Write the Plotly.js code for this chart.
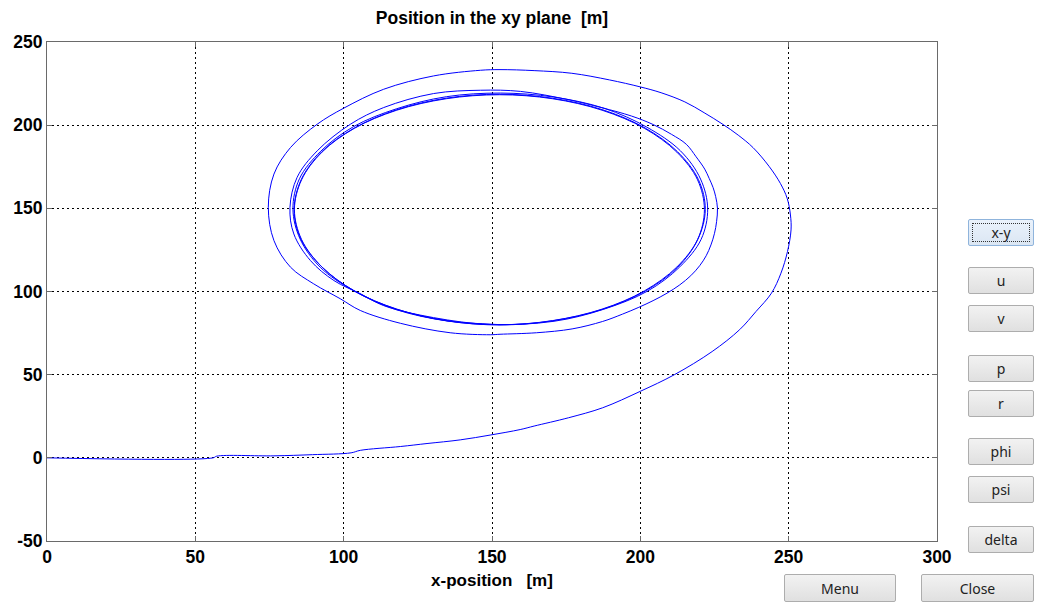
<!DOCTYPE html>
<html>
<head>
<meta charset="utf-8">
<script src="https://cdn.plot.ly/plotly-3.0.1.min.js"></script>
<style>
  html, body { margin:0; padding:0; background:#fff; }
  #wrap { position:relative; width:1037px; height:603px; overflow:hidden; }
  #chart { position:absolute; left:0; top:0; width:1037px; height:603px; }
  .btn { position:absolute; box-sizing:border-box; width:66px; height:27px;
         border:1px solid #adadad; border-radius:2px;
         background:linear-gradient(#f2f2f2,#e0e0e0);
         font-family:"Noto Sans","Liberation Sans",sans-serif; font-size:14px; color:#222;
         display:flex; align-items:center; justify-content:center; }
  .focus { background:linear-gradient(#eaf2fb,#dbe6f3); border-color:#8fb4dc; }
  .focus::after { content:""; position:absolute; left:3px; top:3px; right:3px; bottom:3px;
                  border:1px dotted #333; }
</style>
</head>
<body>
<div id="wrap">
  <div id="chart"></div>
</div>
<script>
// ---- data (x, y in metres) ----
const approachX = [0, 56, 57.2, 76.5, 89.5, 102.5, 105.6, 119.1, 128.1, 139.3, 149.4, 159.5, 164.2, 175.8, 187.3, 200, 211.5, 224.2, 233.5, 239, 244.2];
const approachY = [0, 0, 1, 1.2, 1.9, 3, 4.5, 6.8, 8.6, 10.8, 13.7, 17, 19.1, 24.1, 30.1, 40, 50, 63.9, 77.1, 88, 99];

const lap1X = [247.4, 249.6, 250.8, 250.6, 249.5, 247.2, 243.5, 238, 233, 227.9, 221.5, 215, 207, 200, 189.6, 176.9, 164.2, 152.7, 146.1, 130.3, 113.5, 100, 91.1, 82.1, 76.5, 74.6, 76.5, 82.1, 89.9, 98.9, 105.6, 119.1, 135.9, 149.4];
const lap1Y = [111, 124, 137, 146, 156, 165, 175, 186.5, 194, 200.4, 207.5, 214, 219.5, 223, 227.2, 231.2, 232.8, 233.4, 233, 229.6, 221.6, 210.2, 200.6, 186.6, 170.6, 150.6, 130.6, 114.6, 104.6, 95.6, 88.6, 80.9, 75.2, 74];

const lap2X = [152.7, 165, 177, 187.3, 194, 199.5, 204.3, 209, 213.3, 217, 220, 222.2, 223.8, 225, 225.7, 226, 225.4, 224.5, 223.2, 221.7, 218.8, 215.5, 210.5, 204.3, 197, 187, 175.8, 159.6, 146.1, 130.3, 113.5, 102.3, 91.1, 84.3, 81.9, 83.2, 88.8, 96.7, 105.7, 113.5, 130.3, 149.4];
const lap2Y = [74.3, 75.2, 77.5, 82, 86.4, 90.5, 94.5, 99, 104, 109.5, 115.5, 121.5, 128, 135, 142, 150, 157, 162.6, 168, 173.6, 181, 188.5, 194.5, 200.4, 205.5, 210.5, 215.3, 220.3, 221, 219, 210.6, 200.6, 184.6, 168.6, 150.6, 134.6, 118.6, 106.6, 98.6, 91.5, 84.3, 80.2];

const lap3X = [170.9, 187.6, 202.4, 213.3, 220.5, 222.7, 220.3, 213.5, 202.2, 187.9, 170.8, 152.9, 134.6, 117.9, 103.2, 92.3, 85.1, 82.9, 85.3, 92.1, 103.4, 117.7, 134.8, 152.7];
const lap3Y = [82.1, 89.3, 100.2, 114.8, 131.4, 149.7, 167.6, 184.6, 198.8, 210.1, 216.9, 219.3, 217.1, 209.9, 199, 184.4, 167.8, 149.5, 131.6, 114.6, 100.4, 89.1, 82.3, 79.9];

const lap4X = [170.5, 187.3, 201.7, 212.6, 219.4, 221.9, 219.6, 212.5, 201.6, 187.4, 170.4, 152.6, 134.8, 117.9, 103.5, 92.6, 85.7, 83.3, 85.6, 92.7, 103.6, 117.8, 134.7, 152.6];
const lap4Y = [82.4, 89.3, 100.3, 114.6, 131.4, 149.3, 167.2, 184.1, 198.3, 209.2, 216.2, 218.6, 216.3, 209.3, 198.2, 184, 167.3, 149.3, 131.4, 114.7, 100.3, 89.4, 82.4, 80];

const lap5X = [170.4, 187.1, 201.4, 212.3, 219.3, 221.6, 219.3, 212.3, 201.4, 187.1, 170.4, 152.5, 134.6, 117.9, 103.6, 92.7, 85.8, 83.4, 85.8, 92.7, 103.6, 117.9, 134.6, 152.5];
const lap5Y = [82.5, 89.4, 100.4, 114.7, 131.3, 149.2, 167.1, 183.8, 198.1, 209, 215.9, 218.3, 215.9, 209, 198.1, 183.8, 167.1, 149.2, 131.3, 114.7, 100.4, 89.4, 82.5, 80.1];

const xTicks = [0, 50, 100, 150, 200, 250, 300];
const yTicks = [-50, 0, 50, 100, 150, 200, 250];

const buttonLabels = ['x-y', 'u', 'v', 'p', 'r', 'phi', 'psi', 'delta'];
const bottomLabels = ['Menu', 'Close'];

// ---- assemble path ----
const pathX = [].concat(approachX, lap1X, lap2X, lap3X, lap4X, lap5X);
const pathY = [].concat(approachY, lap1Y, lap2Y, lap3Y, lap4Y, lap5Y);

const fontFam = '"Liberation Sans", Arial, sans-serif';
const axisCommon = {
  showgrid: true, gridcolor: '#000', griddash: '2px,3px', gridwidth: 1,
  showline: true, linecolor: '#6a6a6a', linewidth: 1, mirror: 'ticks',
  ticks: 'inside', ticklen: 5, tickcolor: '#6a6a6a', tickwidth: 1,
  zeroline: false, fixedrange: true,
  tickfont: { family: fontFam, size: 17.5, color: '#000', weight: 'bold' }
};

const trace = {
  type: 'scatter', mode: 'lines', x: pathX, y: pathY,
  line: { color: '#0000ff', width: 1, shape: 'spline', smoothing: 1 },
  hoverinfo: 'skip'
};

const layout = {
  width: 1037, height: 603,
  margin: { l: 47, r: 100, t: 42, b: 62, pad: 0 },
  paper_bgcolor: '#fff', plot_bgcolor: '#fff',
  showlegend: false,
  title: { text: 'Position in the xy plane\u00a0\u00a0[m]', xref: 'paper', x: 0.5, xanchor: 'center',
           yref: 'container', y: 0.970, yanchor: 'middle',
           font: { family: fontFam, size: 17.5, color: '#000', weight: 'bold' } },
  xaxis: Object.assign({}, axisCommon, {
    range: [0, 300], tickvals: xTicks, ticktext: xTicks.map(String),
    title: { text: 'x-position\u00a0\u00a0\u00a0[m]', standoff: 8,
             font: { family: fontFam, size: 17, color: '#000', weight: 'bold' } }
  }),
  yaxis: Object.assign({}, axisCommon, {
    range: [-50, 250], tickvals: yTicks, ticktext: yTicks.map(String)
  })
};

Plotly.newPlot('chart', [trace], layout, { displayModeBar: false, staticPlot: true });

// ---- side buttons (GUI controls of the original figure) ----
const wrap = document.getElementById('wrap');
const sideTops = [219, 267, 305, 355, 390, 438, 476, 526];
buttonLabels.forEach((lab, i) => {
  const b = document.createElement('div');
  b.className = 'btn' + (i === 0 ? ' focus' : '');
  b.style.left = '968px';
  b.style.top = sideTops[i] + 'px';
  b.textContent = lab;
  wrap.appendChild(b);
});
const bottomLefts = [784, 921];
const bottomWidths = [112, 113];
bottomLabels.forEach((lab, i) => {
  const b = document.createElement('div');
  b.className = 'btn';
  b.style.left = bottomLefts[i] + 'px';
  b.style.top = '574px';
  b.style.width = bottomWidths[i] + 'px';
  b.style.height = '28px';
  b.textContent = lab;
  wrap.appendChild(b);
});
</script>
</body>
</html>
